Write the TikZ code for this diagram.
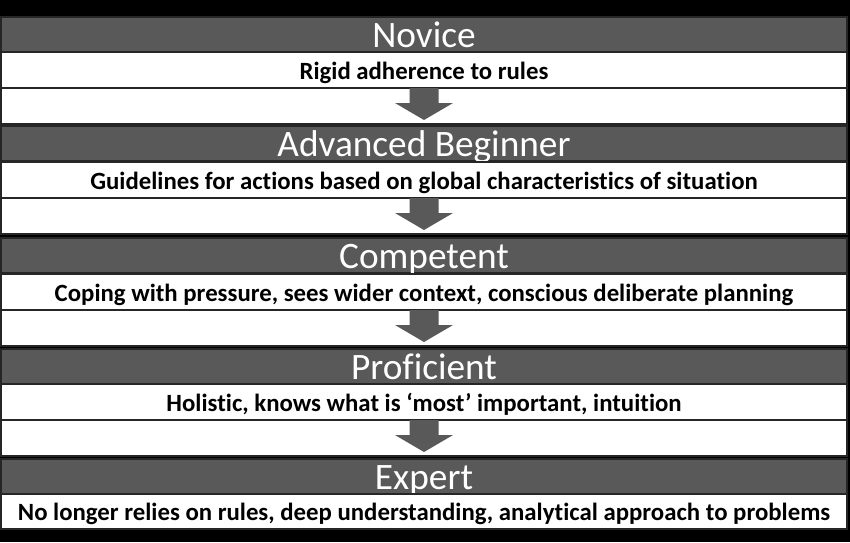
\documentclass[tikz,border=0pt]{standalone}
\usepackage{fontspec}
\setmainfont{Carlito}[Ligatures=NoCommon]
\usetikzlibrary{calc}
\definecolor{band}{RGB}{89,89,89}
\definecolor{edge}{RGB}{38,38,38}
\definecolor{sep}{RGB}{128,128,128}
\tikzset{
  x=1pt, y=-1pt,
  row/.style={anchor=north west, minimum width=846pt, inner sep=0pt, outer sep=0pt, draw=edge, line width=1.2pt},
  titlerow/.style={row, fill=band, minimum height=35pt, text=white, font=\fontsize{37.3}{37.3}\selectfont, text height=26pt, text depth=0pt},
  descrow/.style={row, fill=white, minimum height=36pt, text=black, font=\bfseries\fontsize{24.8}{24.8}\selectfont, text height=18pt, text depth=0pt},
  blankrow/.style={row, fill=white, minimum height=36pt},
  downarrow/.style={fill=band}
}
\newcommand{\stagearrow}[1]{%
  \fill[downarrow] ($(#1.north)+(-14.5,0)$) -- ($(#1.north)+(14.5,0)$) -- ($(#1.north)+(14.5,15)$) -- ($(#1.north)+(29,15)$) -- ($(#1.north)+(0,32)$) -- ($(#1.north)+(-29,15)$) -- ($(#1.north)+(-14.5,15)$) -- cycle;}
\begin{document}
\begin{tikzpicture}
\fill[black] (0,0) rectangle (850,542);
\useasboundingbox (0,0) rectangle (850,542);
% Novice
\node[titlerow] (t1) at (1,17) {Novice};
\node[descrow] (d1) at (1,52) {Rigid adherence to rules};
\node[blankrow] (b1) at (1,88) {};
\stagearrow{b1}
% Advanced Beginner
\node[titlerow] (t2) at (1,126) {Advanced Beginner};
\node[descrow] (d2) at (1,162) {Guidelines for actions based on global characteristics of situation};
\node[blankrow] (b2) at (1,198) {};
\stagearrow{b2}
% Competent
\node[titlerow] (t3) at (1,238) {Competent};
\node[descrow] (d3) at (1,274) {Coping with pressure, sees wider context, conscious deliberate planning};
\node[blankrow] (b3) at (1,310) {};
\stagearrow{b3}
% Proficient
\node[titlerow] (t4) at (1,349) {Proficient};
\node[descrow] (d4) at (1,384) {Holistic, knows what is ‘most’ important, intuition};
\node[blankrow] (b4) at (1,420) {};
\stagearrow{b4}
% Expert
\node[titlerow] (t5) at (1,459) {Expert};
\node[descrow, minimum height=35pt] (d5) at (1,494) {No longer relies on rules, deep understanding, analytical approach to problems};
\end{tikzpicture}
\end{document}
